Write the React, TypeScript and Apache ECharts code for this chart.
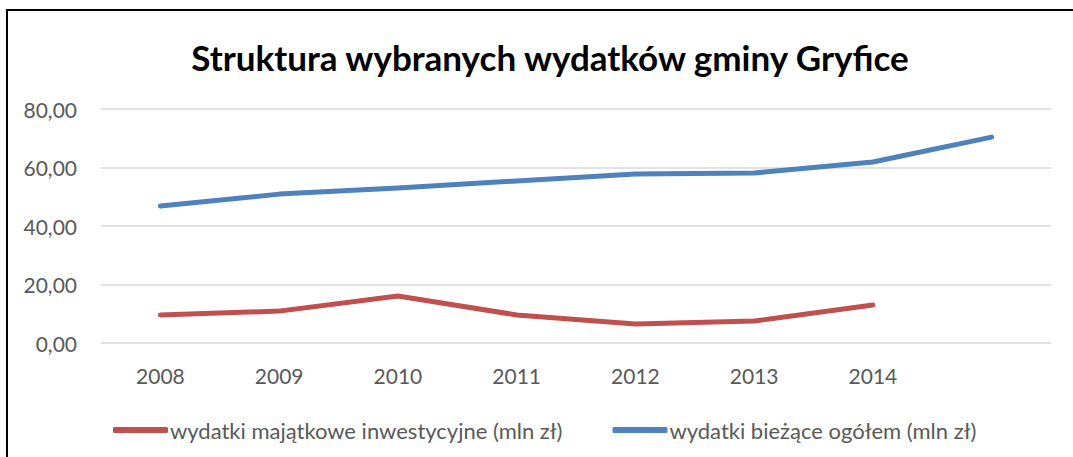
import React, { useEffect, useRef } from "react";
import * as echarts from "echarts";

const categories = ["2008", "2009", "2010", "2011", "2012", "2013", "2014", ""];
const investValues = [9.6, 10.9, 16.1, 9.6, 6.5, 7.5, 13.0];
const currentValues = [46.8, 50.9, 53.0, 55.4, 57.8, 58.1, 61.9, 70.4];
const seriesNames = ["wydatki majątkowe inwestycyjne (mln zł)", "wydatki bieżące ogółem (mln zł)"];
const titleText = "Struktura wybranych wydatków gminy Gryfice";

export default function App() {
  const ref = useRef<HTMLDivElement>(null);
  useEffect(() => {
    if (!ref.current) return;
    const chart = echarts.init(ref.current, undefined, { renderer: "svg" });
    const font = "Lato, sans-serif";
    chart.setOption({
      animation: false,
      backgroundColor: "#ffffff",
      title: {
        text: titleText,
        left: 545,
        top: 34,
        textAlign: "center",
        textStyle: { fontFamily: font, fontWeight: "bold", fontSize: 35, color: "#000000" },
      },
      graphic: [
        {
          type: "rect",
          shape: { x: 7, y: 10, width: 1200, height: 600 },
          style: { fill: "none", stroke: "#000000", lineWidth: 2 },
          silent: true,
        },
      ],
      grid: { left: 101, right: 22, top: 109, bottom: 114 },
      legend: {
        left: 108,
        top: 414,
        icon: "roundRect",
        itemWidth: 55,
        itemHeight: 6,
        itemGap: 50,
        textStyle: { fontFamily: font, fontSize: 22, color: "#595959", padding: [0, 0, 0, -3] },
        data: seriesNames,
      },
      xAxis: {
        type: "category",
        data: categories,
        boundaryGap: true,
        axisLine: { show: false },
        axisTick: { show: false },
        axisLabel: { fontFamily: font, fontSize: 21, color: "#595959", margin: 22 },
      },
      yAxis: {
        type: "value",
        min: 0,
        max: 80,
        interval: 20,
        axisLine: { show: false },
        axisTick: { show: false },
        axisLabel: {
          fontFamily: font,
          fontSize: 21,
          color: "#595959",
          margin: 24,
          formatter: (v: number) => v.toFixed(2).replace(".", ","),
        },
        splitLine: { lineStyle: { color: "#d9d9d9", width: 1.5 } },
      },
      series: [
        {
          name: seriesNames[0],
          type: "line",
          data: investValues,
          showSymbol: false,
          symbol: "none",
          lineStyle: { color: "#C0504D", width: 5, cap: "round", join: "round" },
          itemStyle: { color: "#C0504D" },
        },
        {
          name: seriesNames[1],
          type: "line",
          data: currentValues,
          showSymbol: false,
          symbol: "none",
          lineStyle: { color: "#4F81BD", width: 5, cap: "round", join: "round" },
          itemStyle: { color: "#4F81BD" },
        },
      ],
    });
    return () => chart.dispose();
  }, []);
  return (
    <div
      ref={ref}
      style={{ position: "fixed", left: 0, top: 0, width: 1073, height: 457 }}
    />
  );
}
